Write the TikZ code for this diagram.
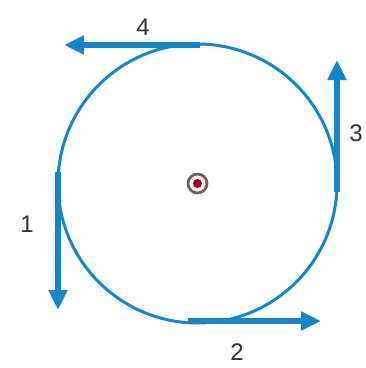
\documentclass[tikz,border=0pt]{standalone}
\usepackage{fontspec}
\setmainfont{Liberation Sans}
\usetikzlibrary{arrows.meta}

\definecolor{wireblue}{RGB}{22,134,200}

\begin{document}
\begin{tikzpicture}[x=1pt,y=-1pt,line width=3pt,>={Triangle[length=20pt,width=18pt]}]
  \useasboundingbox (0,0) rectangle (366,368);
  \coordinate (O) at (197.5,183.5);
  \draw[wireblue] (O) circle(139.5);
  % velocidad tangente en cuatro puntos de la orbita
  \coordinate (a1) at (58,172);  \coordinate (b1) at (58,310);
  \coordinate (a2) at (188,321); \coordinate (b2) at (321,321);
  \coordinate (a3) at (337,192); \coordinate (b3) at (337,60);
  \coordinate (a4) at (200,45);  \coordinate (b4) at (64,45);
  \foreach \k in {1,...,4}{
    \draw[wireblue,line width=6pt,->] (a\k) -- (b\k);
  }
  % campo saliendo del plano
  \draw[black!60,line width=2.8pt,fill=pink!30] (O) circle(9.5);
  \fill[purple!75!black] (O) circle(4.5);
  \node[text=black!80,font=\fontsize{24}{24}\selectfont] (n1) at (27,224) {1};
  \node[text=black!80,font=\fontsize{24}{24}\selectfont] (n2) at (237,352) {2};
  \node[text=black!80,font=\fontsize{24}{24}\selectfont] (n3) at (356,133) {3};
  \node[text=black!80,font=\fontsize{24}{24}\selectfont] (n4) at (143,27) {4};
\end{tikzpicture}
\end{document}
